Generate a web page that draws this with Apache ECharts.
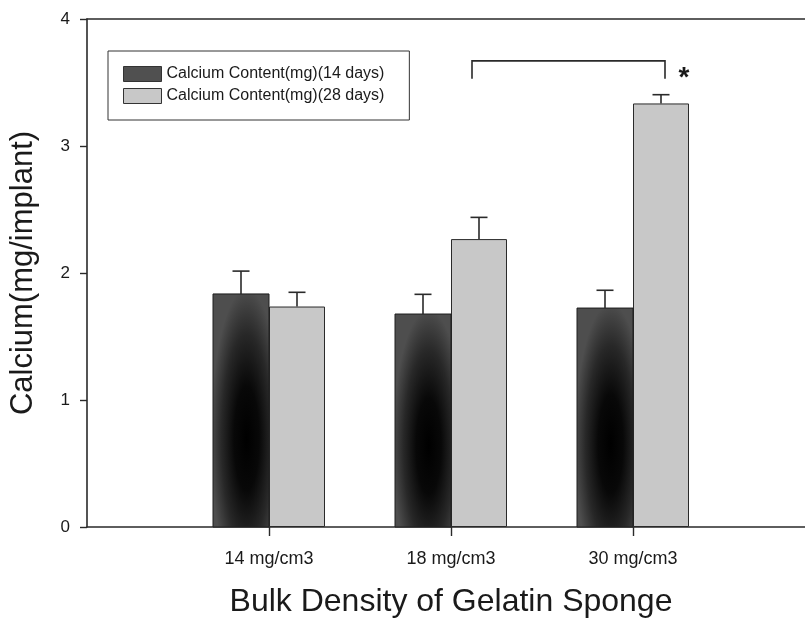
<!DOCTYPE html>
<html>
<head>
<meta charset="utf-8">
<script src="https://cdn.jsdelivr.net/npm/echarts@6/dist/echarts.min.js"></script>
<style>
html,body{margin:0;padding:0;background:#fff;overflow:hidden;}
#chart{width:805px;height:619px;}
</style>
</head>
<body>
<div id="chart"></div>
<script>
// ---- data ----
const categories = ['14 mg/cm3', '18 mg/cm3', '30 mg/cm3'];
const seriesNames = ['Calcium Content(mg)(14 days)', 'Calcium Content(mg)(28 days)'];
const calcium14 = [1.835, 1.677, 1.724];
const calcium14Err = [0.180, 0.155, 0.140];
const calcium28 = [1.736, 2.267, 3.335];
const calcium28Err = [0.112, 0.171, 0.069];
const yTicks = [0, 1, 2, 3, 4];
// significance bracket: from category index to category index, top level, leg end level
const bracketFrom = 1, bracketTo = 2;
const bracketTop = 3.67, bracketEnd = 3.53;
const bracketMark = '*';

// ---- build ----
const axisCats = [''].concat(categories, ['']);
const pad = arr => ['-'].concat(arr, ['-']);
const BW = 56;
const chart = echarts.init(document.getElementById('chart'), null, {renderer: 'canvas'});

function errSeries(vals, errs, off) {
  return {
    type: 'custom',
    silent: true,
    z: 5,
    clip: false,
    encode: {x: 0, y: 1},
    data: vals.map((v, i) => [i + 1, v, v + errs[i]]),
    renderItem: function (params, api) {
      const p0 = api.coord([api.value(0), api.value(1)]);
      const p1 = api.coord([api.value(0), api.value(2)]);
      const x = p0[0] + off;
      return {
        type: 'group',
        children: [
          {type: 'line', shape: {x1: x, y1: p0[1], x2: x, y2: p1[1]}, style: {stroke: '#2a2a2a', lineWidth: 1.6}},
          {type: 'line', shape: {x1: x - 8.5, y1: p1[1], x2: x + 8.5, y2: p1[1]}, style: {stroke: '#2a2a2a', lineWidth: 1.6}}
        ]
      };
    }
  };
}

const option = {
  animation: false,
  backgroundColor: '#ffffff',
  textStyle: {fontFamily: 'Liberation Sans, Arial, sans-serif'},
  grid: {left: 87, top: 19, width: 728, height: 508, containLabel: false, outerBoundsMode: 'none'},
  legend: {
    orient: 'vertical',
    left: 108,
    top: 51,
    data: seriesNames,
    itemWidth: 38,
    itemHeight: 15,
    itemGap: 6,
    padding: [15, 25, 16, 15],
    borderColor: '#333',
    borderWidth: 1,
    icon: 'rect',
    itemStyle: {borderColor: '#333', borderWidth: 1},
    textStyle: {fontSize: 16, color: '#1a1a1a', fontFamily: 'Liberation Sans, Arial, sans-serif'}
  },
  xAxis: [{
    type: 'category',
    data: axisCats,
    boundaryGap: false,
    name: 'Bulk Density of Gelatin Sponge',
    nameLocation: 'middle',
    nameGap: 59,
    nameTextStyle: {fontSize: 32, color: '#1a1a1a', fontFamily: 'Liberation Sans, Arial, sans-serif'},
    axisLine: {show: true, lineStyle: {color: '#2a2a2a', width: 1.6}},
    axisTick: {show: true, length: 9, interval: (i) => i >= 1 && i <= categories.length, lineStyle: {color: '#2a2a2a', width: 1.4}},
    axisLabel: {show: true, interval: (i) => i >= 1 && i <= categories.length, margin: 23, fontSize: 18, color: '#1a1a1a'},
    splitLine: {show: false}
  }, {
    type: 'category',
    data: axisCats,
    boundaryGap: false,
    position: 'top',
    axisLine: {show: true, lineStyle: {color: '#2a2a2a', width: 1.6}},
    axisTick: {show: false},
    axisLabel: {show: false},
    splitLine: {show: false}
  }],
  yAxis: {
    type: 'value',
    min: yTicks[0],
    max: yTicks[yTicks.length - 1],
    interval: 1,
    name: 'Calcium(mg/implant)',
    nameLocation: 'middle',
    nameGap: 48,
    nameTextStyle: {fontSize: 31, color: '#1a1a1a', fontFamily: 'Liberation Sans, Arial, sans-serif'},
    axisLine: {show: true, lineStyle: {color: '#2a2a2a', width: 1.6}},
    axisTick: {show: true, length: 7, lineStyle: {color: '#2a2a2a', width: 1.4}},
    axisLabel: {margin: 17, fontSize: 17, color: '#1a1a1a'},
    splitLine: {show: false}
  },
  series: [
    {
      name: seriesNames[0],
      type: 'bar',
      data: pad(calcium14),
      barWidth: BW,
      barGap: '0%',
      itemStyle: {color: '#505050', borderColor: '#1e1e1e', borderWidth: 1},
      z: 2
    },
    {
      name: seriesNames[1],
      type: 'bar',
      data: pad(calcium28),
      barWidth: BW,
      barGap: '0%',
      itemStyle: {color: '#c8c8c8', borderColor: '#2a2a2a', borderWidth: 1},
      z: 2
    },
    {
      // radial shading of the dark bars
      type: 'custom',
      silent: true,
      z: 3,
      encode: {x: 0, y: 1},
      data: calcium14.map((v, i) => [i + 1, v]),
      renderItem: function (params, api) {
        const top = api.coord([api.value(0), api.value(1)]);
        const base = api.coord([api.value(0), 0]);
        const left = top[0] - BW;
        const h = base[1] - top[1];
        return {
          type: 'group',
          children: [
            {
              type: 'rect',
              x: left, y: top[1], scaleX: 1, scaleY: h / BW,
              shape: {x: 0, y: 0, width: BW, height: BW},
              style: {
                fill: new echarts.graphic.RadialGradient(0.6, 0.62, 0.64, [
                  {offset: 0, color: '#000000'},
                  {offset: 0.35, color: '#080808'},
                  {offset: 0.7, color: '#282828'},
                  {offset: 1, color: '#4e4e4e'}
                ])
              }
            },
            {
              type: 'rect',
              shape: {x: left, y: top[1], width: BW, height: h},
              style: {fill: 'none', stroke: '#1e1e1e', lineWidth: 1}
            }
          ]
        };
      }
    },
    errSeries(calcium14, calcium14Err, -BW / 2),
    errSeries(calcium28, calcium28Err, BW / 2),
    {
      // significance bracket
      type: 'custom',
      silent: true,
      z: 6,
      clip: false,
      encode: {x: 0, y: 2},
      data: [[bracketFrom + 1, bracketTo + 1, bracketTop, bracketEnd]],
      renderItem: function (params, api) {
        const pl = api.coord([api.value(0), api.value(2)]);
        const pr = api.coord([api.value(1), api.value(2)]);
        const pe = api.coord([api.value(0), api.value(3)]);
        const xl = pl[0] + 21, xr = pr[0] + 32;
        return {
          type: 'group',
          children: [
            {type: 'polyline', shape: {points: [[xl, pe[1]], [xl, pl[1]], [xr, pl[1]], [xr, pe[1]]]},
             style: {stroke: '#2a2a2a', lineWidth: 1.6, fill: 'none'}},
            {type: 'text', x: xr + 19, y: pe[1],
             style: {text: bracketMark, fontSize: 28, fontWeight: 'bold', fill: '#1a1a1a',
                     align: 'center', verticalAlign: 'middle', fontFamily: 'Liberation Sans, Arial, sans-serif'}}
          ]
        };
      }
    }
  ]
};
chart.setOption(option);
</script>
</body>
</html>
